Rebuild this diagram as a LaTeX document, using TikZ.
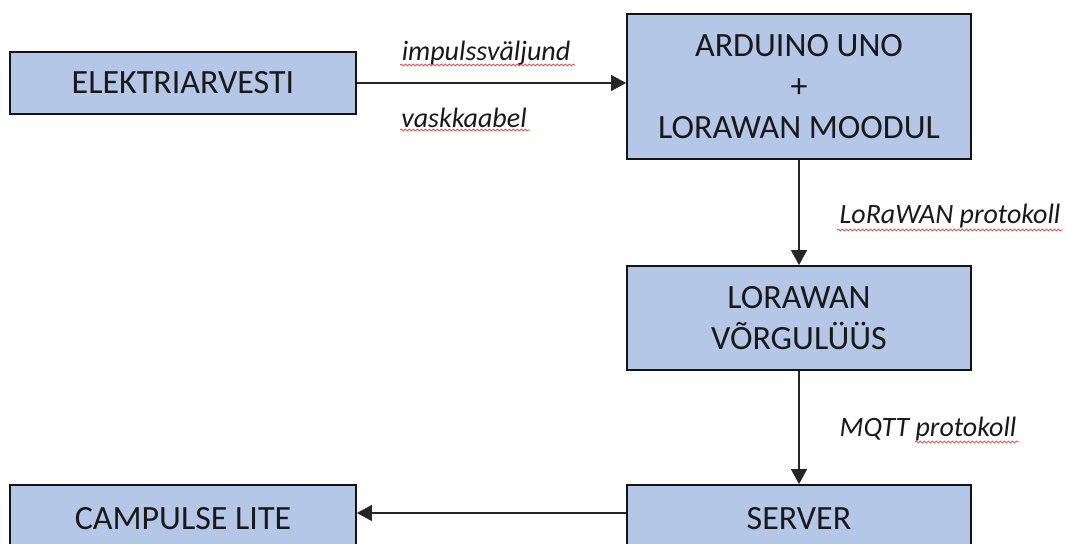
\documentclass[tikz,border=0pt]{standalone}
\usepackage{fontspec}
\setmainfont{Carlito}
\usetikzlibrary{arrows.meta,decorations.pathmorphing}
\definecolor{boxfill}{RGB}{180,199,231}
\definecolor{boxline}{RGB}{20,20,20}
\definecolor{squig}{RGB}{230,60,60}
\tikzset{
  blk/.style={draw=boxline, line width=1.8pt, fill=boxfill, inner sep=0pt,
    font=\fontsize{34}{41}\selectfont, align=center, text=black!90},
  conn/.style={line width=1.1pt, draw=black!85, -{Triangle[length=15pt,width=16pt]}},
  lbl/.style={font=\fontsize{28}{30}\selectfont\itshape, inner sep=0pt, text=black!90},
  spell/.style={draw=squig, line width=0.7pt, decorate,
    decoration={snake, segment length=4pt, amplitude=1pt}}
}
\begin{document}
\begin{tikzpicture}[x=1pt,y=-1pt]
\useasboundingbox (0,0) rectangle (1067,543);
% boxes
\node[blk, minimum width=346pt, minimum height=62pt] (E) at (183,83) {ELEKTRIARVESTI};
\node[blk, minimum width=344pt, minimum height=145pt] (A) at (799,86.5) {ARDUINO UNO\\+\\LORAWAN MOODUL};
\node[blk, minimum width=344pt, minimum height=104pt] (L) at (799,318) {LORAWAN\\VÕRGULÜÜS};
\node[blk, minimum width=344pt, minimum height=68pt] (S) at (799,519) {SERVER};
\node[blk, minimum width=346pt, minimum height=68pt] (C) at (183,519) {CAMPULSE LITE};
% connectors
\draw[conn] (E.east) -- (E.east -| A.west);
\draw[conn] (A.south) -- (L.north);
\draw[conn] (L.south) -- (S.north);
\draw[conn] ([yshift=6pt]S.west) -- ([yshift=6pt]S.west -| C.east);
% labels
\node[lbl] (l1) at (486,53) {impulssväljund};
\node[lbl] (l2) at (464,118) {vaskkaabel};
\node[lbl] (l3) at (950,216) {LoRaWAN protokoll};
\node[lbl] (l4) at (928,429) {MQTT protokoll};
% spell-check squiggles
\draw[spell] (400,65) -- (575,65);
\draw[spell] (400,130) -- (530,130);
\draw[spell] (837,230) -- (1063,230);
\draw[spell] (915,442) -- (1019,442);
\end{tikzpicture}
\end{document}
